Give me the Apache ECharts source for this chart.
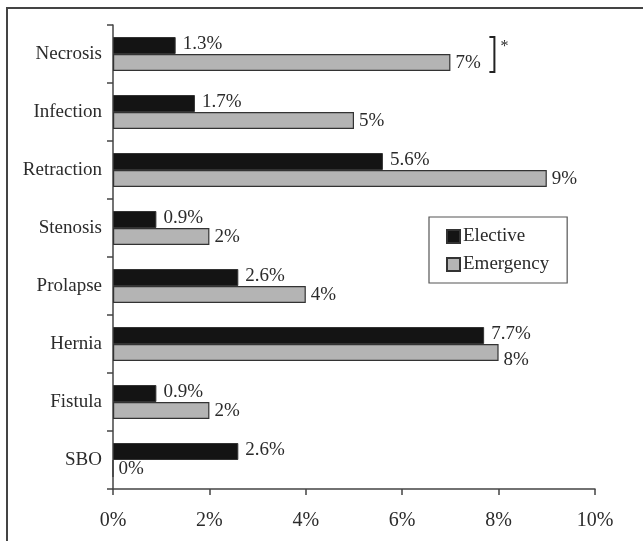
<!DOCTYPE html>
<html>
<head>
<meta charset="utf-8">
<script src="https://cdn.jsdelivr.net/npm/echarts@6/dist/echarts.min.js"></script>
<style>
  html, body { margin: 0; padding: 0; background: #fff; }
  #chart { width: 643px; height: 541px; }
</style>
</head>
<body>
<div id="chart"></div>
<script>
// Stoma complications by type of surgery (percent of patients)
const categories = ['Necrosis', 'Infection', 'Retraction', 'Stenosis', 'Prolapse', 'Hernia', 'Fistula', 'SBO'];
const elective   = [1.3, 1.7, 5.6, 0.9, 2.6, 7.7, 0.9, 2.6];
const emergency  = [7, 5, 9, 2, 4, 8, 2, 0];
const xTicks     = [0, 2, 4, 6, 8, 10];

const FONT = 'Liberation Serif';
const TEXT = '#2b2b2b';

const chart = echarts.init(document.getElementById('chart'));

// Emergency labels: the Hernia one is nudged down so it clears the 7.7% label
const emergencyData = emergency.map((v, i) =>
  categories[i] === 'Hernia' ? { value: v, label: { offset: [0, 8] } } : v
);

chart.setOption({
  animation: false,
  backgroundColor: '#fff',
  textStyle: { fontFamily: FONT, color: TEXT },
  grid: { left: 113, right: 48, top: 25, bottom: 52 },
  xAxis: {
    type: 'value',
    min: xTicks[0],
    max: xTicks[xTicks.length - 1],
    interval: xTicks[1] - xTicks[0],
    splitLine: { show: false },
    axisLine: { show: true, lineStyle: { color: '#444', width: 1.5 } },
    axisTick: { show: true, length: 6, lineStyle: { color: '#444', width: 1.5 } },
    axisLabel: { formatter: '{value}%', fontFamily: FONT, fontSize: 20, color: TEXT, margin: 22 }
  },
  yAxis: {
    type: 'category',
    data: categories,
    inverse: true,
    axisLine: { show: true, lineStyle: { color: '#444', width: 1.5 } },
    axisTick: { show: true, inside: false, length: 6, lineStyle: { color: '#444', width: 1.5 } },
    axisLabel: { fontFamily: FONT, fontSize: 19, color: TEXT, margin: 11 }
  },
  legend: {
    orient: 'vertical',
    left: 429,
    top: 217,
    padding: [10, 18, 9, 17],
    itemGap: 9,
    itemWidth: 13,
    itemHeight: 13,
    icon: 'rect',
    borderColor: '#555',
    borderWidth: 1.2,
    textStyle: { fontFamily: FONT, fontSize: 19, color: TEXT, padding: [0, 0, 0, -2] },
    data: ['Elective', 'Emergency']
  },
  series: [
    {
      name: 'Elective',
      type: 'bar',
      data: elective,
      barWidth: 17,
      barGap: '0%',
      itemStyle: { color: '#141414', borderColor: '#333', borderWidth: 1 },
      label: {
        show: true, position: 'right', distance: 7, offset: [0, -1],
        fontFamily: FONT, fontSize: 19, color: TEXT,
        formatter: p => p.value.toFixed(1) + '%'
      }
    },
    {
      name: 'Emergency',
      type: 'bar',
      data: emergencyData,
      barWidth: 17,
      barGap: '0%',
      itemStyle: { color: '#b4b4b4', borderColor: '#333', borderWidth: 1.2 },
      label: {
        show: true, position: 'right', distance: 5, offset: [0, 1],
        fontFamily: FONT, fontSize: 19, color: TEXT,
        formatter: p => p.value + '%'
      }
    }
  ]
});

// Significance bracket beside the Necrosis pair, placed from the data scale
const necrosisEmergency = emergency[0];
const anchor = chart.convertToPixel({ gridIndex: 0 }, [necrosisEmergency, categories[0]]);
const bx = anchor[0] + 44;
const by = anchor[1];
chart.setOption({
  graphic: [
    {
      type: 'rect',
      shape: { x: 7, y: 8, width: 700, height: 600 },
      style: { fill: 'none', stroke: '#444', lineWidth: 2 },
      silent: true
    },
    {
      type: 'polyline',
      shape: { points: [[bx - 5, by - 17], [bx, by - 17], [bx, by + 18], [bx - 5, by + 18]] },
      style: { fill: 'none', stroke: '#222', lineWidth: 2 }
    },
    {
      type: 'text',
      x: bx + 6,
      y: by - 15,
      style: { text: '*', fontFamily: FONT, fontSize: 16, fill: TEXT }
    }
  ]
});
</script>
</body>
</html>
